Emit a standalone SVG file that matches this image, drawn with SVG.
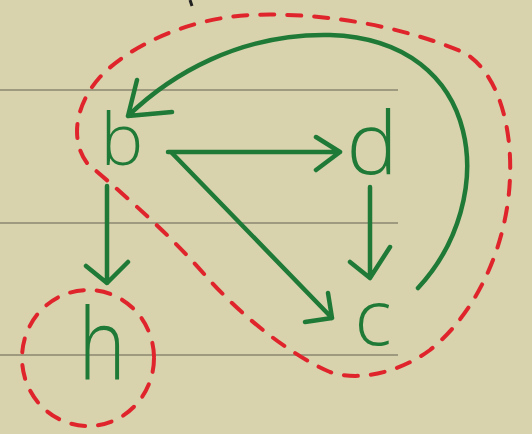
<svg xmlns="http://www.w3.org/2000/svg" width="532" height="434" viewBox="0 0 532 434">
<style>
.rule{stroke:#9e9a80;stroke-width:2;fill:none}
.edge{stroke:#1f7a37;stroke-width:4.5;fill:none;stroke-linecap:round;stroke-linejoin:round}
.lasso{stroke:#e0242c;stroke-width:4;fill:none;stroke-dasharray:14 13;stroke-linecap:round}
.lbl{fill:#1f7a37;font-family:"Open Sans","DejaVu Sans",sans-serif;font-weight:300;text-anchor:middle}
</style>
<rect width="532" height="434" fill="#d8d2ad"/>
<g id="rules">
<line class="rule" x1="0" y1="90" x2="398" y2="90"/>
<line class="rule" x1="0" y1="223" x2="398" y2="223"/>
<line class="rule" x1="0" y1="355" x2="398" y2="355"/>
</g>
<path d="M190 0 L192 6" stroke="#222" stroke-width="3" fill="none"/>
<g id="groups">
<path class="lasso" d="M87 163 C70 140 75 105 100 77 C130 45 190 18 250 15 C320 12 400 25 465 53 C500 75 512 130 510 177 C508 240 480 310 430 350 C400 372 360 382 330 372 C290 355 240 315 205 275 C170 235 130 200 87 163 Z"/>
<ellipse class="lasso" cx="88" cy="358" rx="66" ry="68"/>
</g>
<g id="connectors">
<path class="edge" d="M168 152 L340 152 M316 137 L340 152 L316 170"/>
<path class="edge" d="M172 153 L332 318 M328 293 L332 318 L305 322"/>
<path class="edge" d="M107 186 L107 283 M86 266 L107 283 L128 262"/>
<path class="edge" d="M370 187 L370 278 M350 262 L370 278 L390 247"/>
<path class="edge" d="M418 288 C500 200 485 40 330 35 C240 33 170 75 128 116 M137 80 L128 116 L172 112"/>
</g>
<g id="node-b"><text class="lbl" x="122" y="165" font-size="72">b</text></g>
<g id="node-d"><text class="lbl" x="372" y="174" font-size="86">d</text></g>
<g id="node-c"><text class="lbl" x="373" y="345" font-size="78">c</text></g>
<g id="node-h"><text class="lbl" transform="translate(102 380) scale(0.8 1)" font-size="100">h</text></g>
</svg>
